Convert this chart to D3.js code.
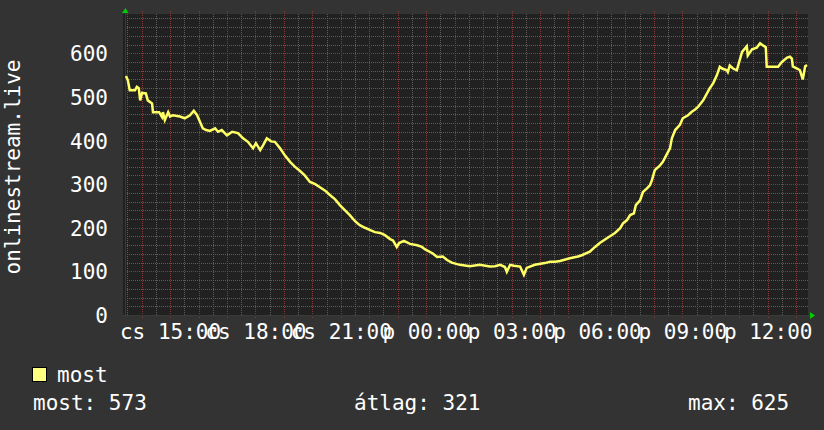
<!DOCTYPE html>
<html><head><meta charset="utf-8">
<script src="https://cdn.jsdelivr.net/npm/d3@7/dist/d3.min.js"></script>
<style>
html,body{margin:0;padding:0;background:#333333;}
svg{display:block;}
text{font-family:"DejaVu Sans Mono",monospace;fill:#ffffff;}
</style></head>
<body><svg id="c" width="824" height="430"></svg>
<script>
// ---- data ----
const times = ["13:27","13:31","13:35","13:46","13:50","13:54","13:57","14:01","14:09","14:13","14:22","14:24","14:37","14:43","14:45","14:49","14:56","15:00","15:06","15:21","15:31","15:42","15:50","15:57","16:03","16:09","16:16","16:24","16:35","16:41","16:49","17:00","17:11","17:23","17:34","17:44","17:55","18:01","18:10","18:16","18:24","18:33","18:41","18:52","19:02","19:13","19:23","19:34","19:44","19:55","20:06","20:16","20:27","20:37","20:48","20:58","21:09","21:19","21:30","21:40","21:51","22:01","22:12","22:23","22:33","22:44","22:50","22:58","23:03","23:13","23:26","23:41","23:51","23:57","00:14","00:23","00:35","00:44","00:54","01:11","01:32","01:53","02:14","02:25","02:36","02:46","02:50","02:57","03:05","03:18","03:26","03:32","03:49","04:10","04:21","04:32","04:42","05:03","05:20","05:28","05:45","05:56","06:06","06:21","06:38","06:49","06:55","07:03","07:10","07:18","07:22","07:31","07:37","07:46","07:52","07:56","08:02","08:13","08:19","08:28","08:34","08:38","08:45","08:55","09:01","09:12","09:20","09:27","09:33","09:44","09:48","09:58","10:05","10:13","10:19","10:24","10:34","10:36","10:40","10:47","10:55","10:57","11:06","11:16","11:18","11:27","11:37","11:44","11:50","11:56","11:58","12:22","12:30","12:41","12:47","12:51","12:53","13:02","13:08","13:14","13:19","13:23"];
const values = [548,538,515,515,523,520,492,509,508,492,485,465,465,454,465,447,465,455,458,455,451,458,468,458,443,428,424,422,428,420,424,412,420,417,405,397,382,394,378,389,405,398,397,382,366,351,340,330,320,305,300,293,285,275,265,252,240,229,215,206,200,195,190,188,183,174,171,156,165,170,163,160,156,151,141,133,134,126,120,115,112,115,111,112,115,110,99,115,113,111,92,108,115,119,122,122,124,130,134,137,145,156,165,176,188,199,210,217,229,233,252,263,282,291,298,309,332,343,351,370,382,405,424,436,451,458,466,471,477,492,500,520,531,550,569,565,561,557,572,565,561,569,603,616,595,609,613,623,618,614,569,569,580,590,592,588,570,565,561,540,570,573];
const yTicks = [0,100,200,300,400,500,600];
const xTickTimes = ["2024-03-14T15:00","2024-03-14T18:00","2024-03-14T21:00","2024-03-15T00:00","2024-03-15T03:00","2024-03-15T06:00","2024-03-15T09:00","2024-03-15T12:00"];
const xTickLabels = ["cs 15:00","cs 18:00","cs 21:00","p 00:00","p 03:00","p 06:00","p 09:00","p 12:00"];
const yTitle = "onlinestream.live";
const seriesName = "most";
const statLabels = ["most: 573","átlag: 321","max: 625"];
const startTime = "2024-03-14T13:25", endTime = "2024-03-15T13:25";

// ---- build ----
const parse = d3.timeParse("%Y-%m-%dT%H:%M");
let day = 14, prev = -1;
const data = times.map((t,i)=>{
  const [h,m] = t.split(":").map(Number);
  const mm = h*60+m;
  if (mm < prev) day++;
  prev = mm;
  return {t: new Date(2024,2,day,h,m), v: values[i]};
});

const FS = 21;
const L=125, R=808, T=14, B=315;
const svg = d3.select("#c");
const x = d3.scaleTime().domain([parse(startTime), parse(endTime)]).range([L, R]);
const y = d3.scaleLinear().domain([0, 690]).range([B, T]);

svg.append("rect").attr("x",0).attr("y",0).attr("width",824).attr("height",430).attr("fill","#333333");
svg.append("rect").attr("x",L-2).attr("y",T).attr("width",R-L+2).attr("height",B-T+1).attr("fill","#212121");

const g = svg.append("g");
// minor grid
const minorY = d3.range(0, 690, 20).filter(v=>v%100!==0);
g.selectAll(".gyn").data(minorY).join("line")
  .attr("x1",L).attr("x2",R).attr("y1",d=>Math.round(y(d))+0.5).attr("y2",d=>Math.round(y(d))+0.5)
  .attr("stroke","#5c5c5c").attr("stroke-dasharray","1,1");
const minorX = d3.timeMinute.every(30).range(x.domain()[0], x.domain()[1]).filter(d=>d.getMinutes()!==0);
g.selectAll(".gxn").data(minorX).join("line")
  .attr("y1",T).attr("y2",B).attr("x1",d=>Math.round(x(d))+0.5).attr("x2",d=>Math.round(x(d))+0.5)
  .attr("stroke","#5c5c5c").attr("stroke-dasharray","1,1");
// major grid
const majorY = d3.range(100, 690, 100);
g.selectAll(".gyj").data(majorY).join("line")
  .attr("x1",L).attr("x2",R).attr("y1",d=>Math.round(y(d))+0.5).attr("y2",d=>Math.round(y(d))+0.5)
  .attr("stroke","#8a3838").attr("stroke-dasharray","1,1");
const majorX = d3.timeHour.every(1).range(x.domain()[0], x.domain()[1]);
g.selectAll(".gxj").data(majorX).join("line")
  .attr("y1",T-3).attr("y2",B+3).attr("x1",d=>Math.round(x(d))+0.5).attr("x2",d=>Math.round(x(d))+0.5)
  .attr("stroke","#8a3838").attr("stroke-dasharray","1,1");

// axis lines
svg.append("line").attr("x1",L-2).attr("x2",R+3).attr("y1",B+0.5).attr("y2",B+0.5).attr("stroke","#3a3a3a");
svg.append("line").attr("x1",L+0.5).attr("x2",L+0.5).attr("y1",T-3).attr("y2",B+2).attr("stroke","#3a3a3a");
// arrows
svg.append("path").attr("d",`M${L-3},${T-1}L${L+3.5},${T-1}L${L+0.5},${T-6}Z`).attr("fill","#00cc00");
svg.append("path").attr("d",`M${R+2},${B-3}L${R+2},${B+4}L${R+7},${B+0.5}Z`).attr("fill","#00cc00");

// line
const line = d3.line().x(d=>x(d.t)).y(d=>y(d.v)).curve(d3.curveLinear);
svg.append("path").datum(data).attr("d",line).attr("fill","none")
  .attr("stroke","#ffff66").attr("stroke-width",2.5).attr("stroke-linejoin","miter");

// y axis
const ya = svg.append("g").attr("transform",`translate(${L},0)`)
  .call(d3.axisLeft(y).tickValues(yTicks).tickSize(0).tickPadding(17));
ya.select(".domain").remove();
ya.selectAll("text").attr("font-size",FS).attr("font-family","DejaVu Sans Mono").attr("fill","#fff").attr("dy","0.36em");

// x axis
const xa = svg.append("g").attr("transform",`translate(0,${B})`)
  .call(d3.axisBottom(x).tickValues(xTickTimes.map(parse)).tickFormat((d,i)=>xTickLabels[i]).tickSize(0).tickPadding(9));
xa.select(".domain").remove();
xa.selectAll("text").attr("font-size",FS).attr("font-family","DejaVu Sans Mono").attr("fill","#fff").attr("dy","0.71em");

// y title
svg.append("text").attr("transform","translate(20,167) rotate(-90)").attr("text-anchor","middle")
  .attr("font-size",FS).text(yTitle);

// legend
svg.append("rect").attr("x",32.5).attr("y",367.5).attr("width",14).attr("height",14)
  .attr("fill","#ffff80").attr("stroke","#000");
svg.append("text").attr("x",57).attr("y",382).attr("font-size",FS).text(seriesName);
const statX = [33, 354, 688];
statLabels.forEach((s,i)=>svg.append("text").attr("x",statX[i]).attr("y",410).attr("font-size",FS).text(s));
</script></body></html>
